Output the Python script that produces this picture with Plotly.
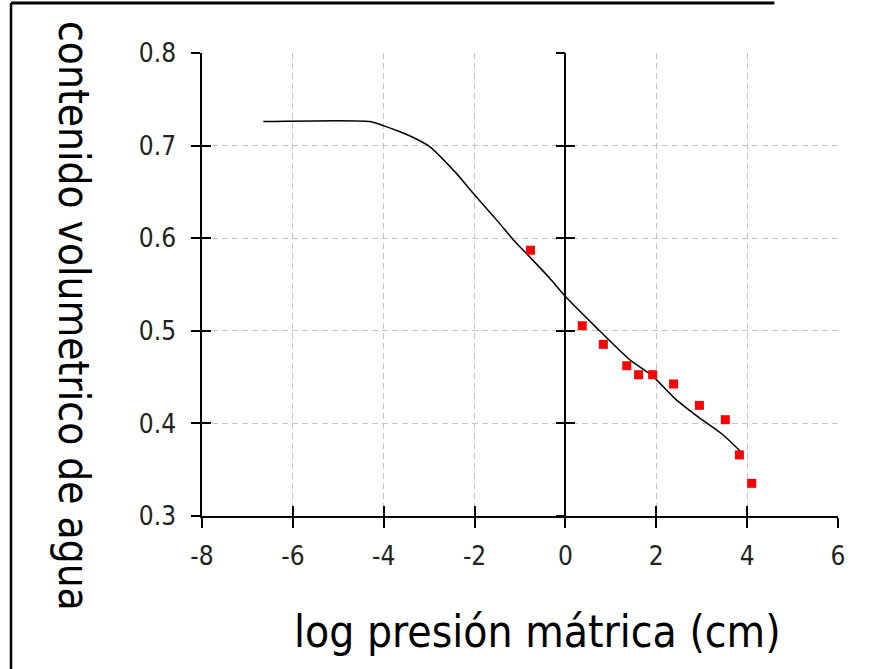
import plotly.graph_objects as go

# Measured water retention data: log matric pressure vs volumetric water content
obs_x = [-0.77, 0.37, 0.835, 1.35, 1.61, 1.92, 2.38, 2.95, 3.52, 3.83, 4.10]
obs_y = [0.587, 0.5055, 0.4854, 0.4623, 0.4526, 0.4526, 0.4426, 0.4195, 0.404, 0.366, 0.3353]

# Fitted retention curve
fit_x = [-6.65, -4.3, -3.98, -3.7, -3.36, -2.99, -2.40, -2.04, -1.45, -1.16, -0.79,
         -0.35, 0.0, 0.67, 1.41, 1.92, 2.43, 2.95, 3.46, 3.85]
fit_y = [0.726, 0.726, 0.721, 0.716, 0.709, 0.699, 0.670, 0.649, 0.616, 0.599, 0.580,
         0.557, 0.537, 0.504, 0.469, 0.451, 0.426, 0.406, 0.388, 0.370]

x_ticks = [-8, -6, -4, -2, 0, 2, 4, 6]
x_tick_text = ["-8", "-6", "-4", "-2", "0", "2", "4", "6"]
y_ticks = [0.3, 0.4, 0.5, 0.6, 0.7, 0.8]
x_range = [-8, 6]
y_range = [0.3, 0.8]

FONT = "DejaVu Sans Condensed, Liberation Sans Narrow, sans-serif"

fig = go.Figure()
fig.add_trace(go.Scatter(x=fit_x, y=fit_y, mode="lines",
                         line=dict(color="black", width=1.5, shape="spline", smoothing=0.6),
                         showlegend=False))
fig.add_trace(go.Scatter(x=obs_x, y=obs_y, mode="markers",
                         marker=dict(symbol="square", size=9, color="#ff0000"),
                         showlegend=False))

grid = dict(showgrid=True, gridcolor="#c4c4c4", gridwidth=1, griddash="6px,4px")

fig.update_layout(
    width=869, height=669,
    margin=dict(l=202, r=31, t=53, b=153),
    paper_bgcolor="white", plot_bgcolor="white",
    font=dict(family=FONT, color="#222222"),
    xaxis=dict(range=x_range, tickvals=x_ticks, ticktext=x_tick_text, ticks="outside",
               ticklen=10, tickwidth=1.5, tickcolor="black", showline=True,
               linecolor="black", linewidth=1.5, zeroline=False,
               tickfont=dict(size=26, family=FONT), ticklabelstandoff=6, **grid),
    xaxis2=dict(range=x_range, tickvals=x_ticks, ticks="inside", ticklen=10,
                tickwidth=1.5, tickcolor="black", showline=False, showgrid=False,
                zeroline=False, showticklabels=False, overlaying="x", anchor="y"),
    yaxis=dict(range=y_range, tickvals=y_ticks, ticks="outside", ticklen=9,
               tickwidth=1.5, tickcolor="black", showline=True, linecolor="black",
               linewidth=1.5, zeroline=False, tickformat=".1f",
               tickfont=dict(size=26, family=FONT), ticklabelstandoff=10, **grid),
    yaxis2=dict(range=y_range, tickvals=y_ticks, ticks="inside", ticklen=9,
                tickwidth=1.5, tickcolor="black", showline=False, showgrid=False,
                zeroline=False, showticklabels=False, overlaying="y", anchor="x"),
    yaxis3=dict(range=y_range, tickvals=y_ticks, ticks="outside", ticklen=9,
                tickwidth=1.5, tickcolor="black", showline=True, linecolor="black",
                linewidth=1.5, showgrid=False, zeroline=False, showticklabels=False,
                overlaying="y", anchor="free", position=8 / 14),
    yaxis4=dict(range=y_range, tickvals=y_ticks, ticks="inside", ticklen=9,
                tickwidth=1.5, tickcolor="black", showline=False, showgrid=False,
                zeroline=False, showticklabels=False, overlaying="y", anchor="free",
                position=8 / 14),
    annotations=[
        dict(text="log presión mátrica (cm)", xref="paper", yref="paper",
             x=0.528, y=-0.2505, showarrow=False, xanchor="center", yanchor="middle",
             font=dict(size=44, family=FONT, color="black")),
        dict(text="contenido volumetrico de agua", xref="paper", yref="paper",
             x=-0.203, y=0.432, showarrow=False, textangle=90,
             xanchor="center", yanchor="middle",
             font=dict(size=42, family=FONT, color="black")),
    ],
    shapes=[
        dict(type="line", xref="paper", yref="paper", x0=-0.3003, x1=0.9,
             y0=1.108, y1=1.108, line=dict(color="black", width=3)),
        dict(type="line", xref="paper", yref="paper", x0=-0.3003, x1=-0.3003,
             y0=1.108, y1=-0.335, line=dict(color="black", width=2.5)),
    ],
)

# Empty helper traces so the overlay axes are rendered
for xa, ya in [("x2", "y"), ("x", "y2"), ("x", "y3"), ("x", "y4")]:
    fig.add_trace(go.Scatter(x=[None], y=[None], xaxis=xa, yaxis=ya,
                             showlegend=False, hoverinfo="skip"))

fig.write_html("out.html")
